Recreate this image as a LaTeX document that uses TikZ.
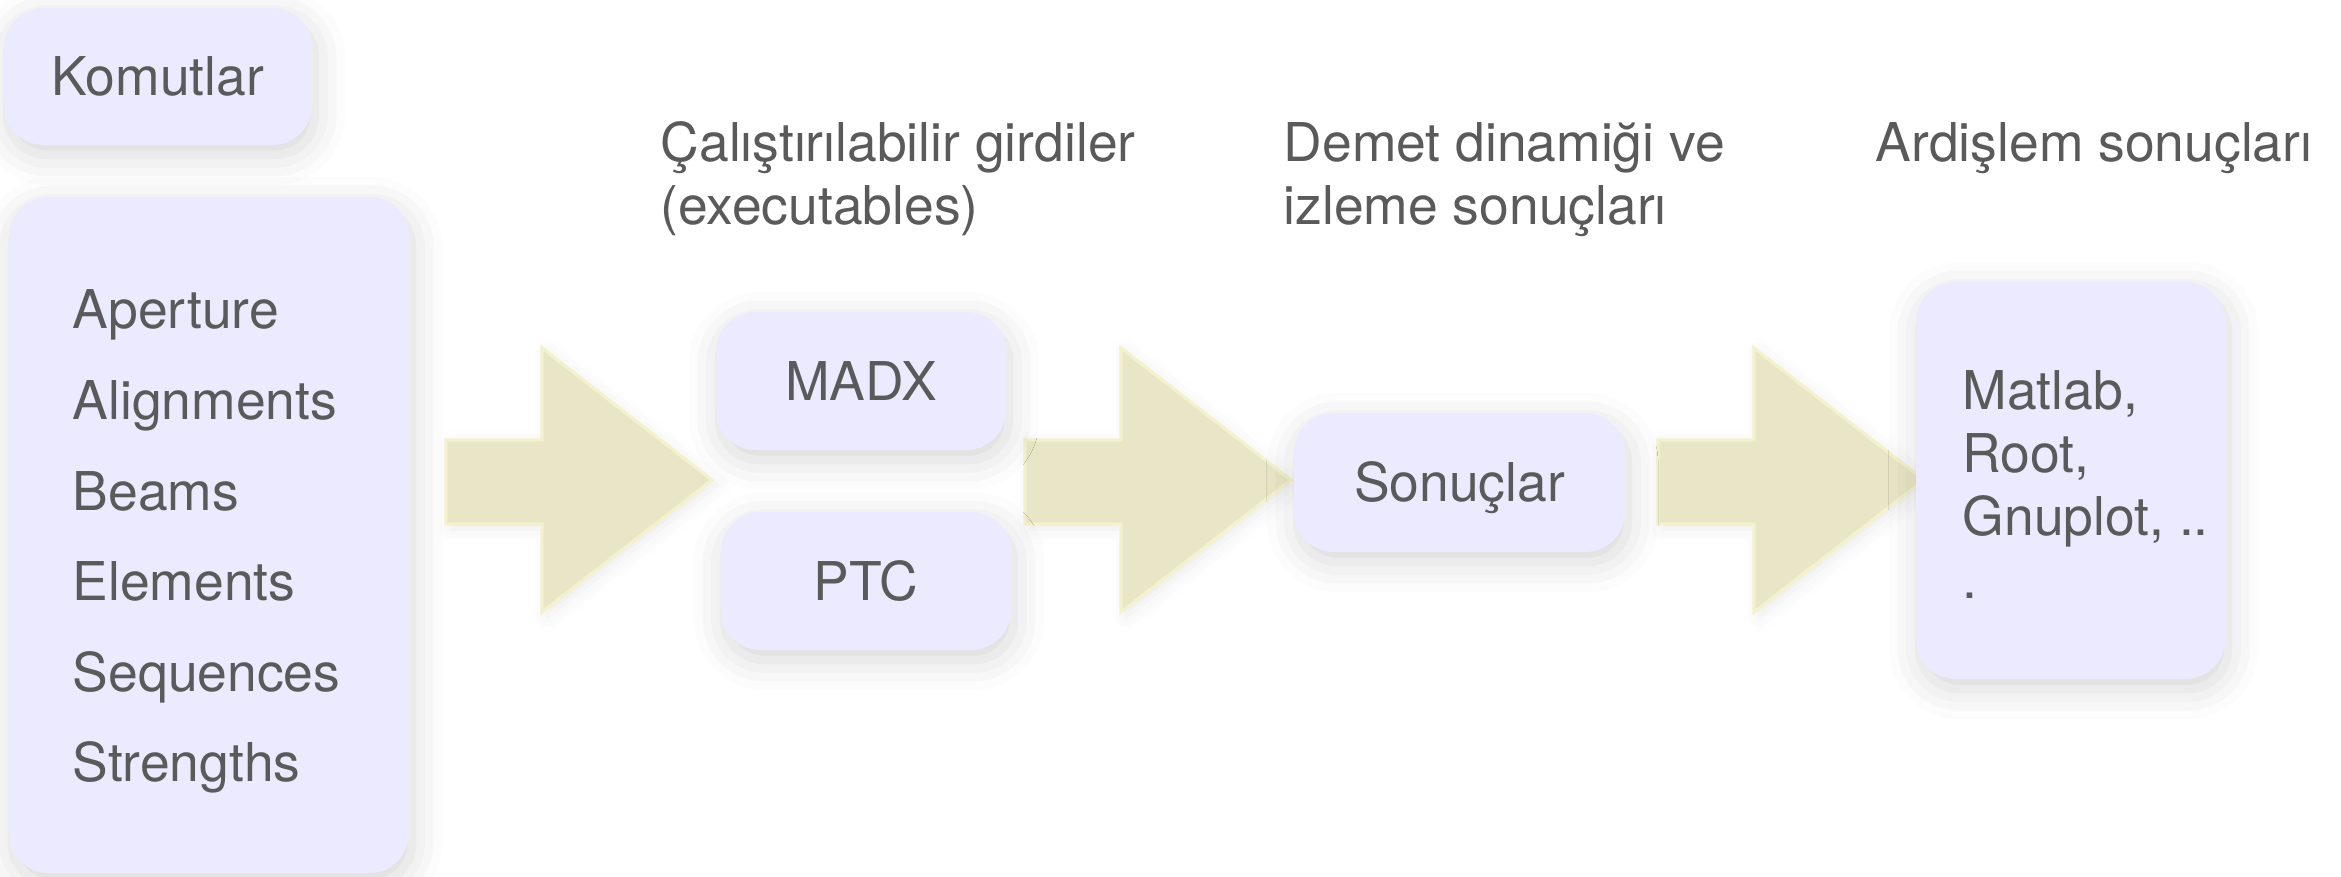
\documentclass[tikz,border=0pt]{standalone}
\usepackage{fontspec}
\setmainfont{TeX Gyre Heros}
\usepackage{tikz}
\usetikzlibrary{shadows.blur}

\definecolor{boxfill}{RGB}{236,234,254}
\definecolor{arrowfill}{RGB}{232,230,198}
\definecolor{arrowedge}{RGB}{244,242,204}
\definecolor{textgray}{RGB}{90,90,90}

\tikzset{
  box/.style={fill=boxfill, rounded corners=0.4cm, inner sep=0pt,
    text height=0.385cm, text depth=0pt,
    blur shadow={shadow xshift=0.03cm, shadow yshift=-0.1cm, shadow blur radius=0.3cm, shadow opacity=16}},
  txt/.style={text=textgray, inner sep=0pt, align=left},
  bigarrow/.style={fill=arrowfill, draw=arrowedge, line width=0.9pt, line join=miter,
    blur shadow={shadow xshift=0.05cm, shadow yshift=-0.05cm, shadow blur radius=0.15cm, shadow opacity=8}}
}

\begin{document}
\begin{tikzpicture}[x=0.01cm,y=-0.01cm, font=\fontsize{15.2pt}{18pt}\selectfont]
\useasboundingbox (0,0) rectangle (2341,877);

%arrows
\foreach \x in {446,1025,1658}
  \draw[bigarrow] (\x,440) -- (\x+96,440) -- (\x+96,348) -- (\x+266,480)
    -- (\x+96,612) -- (\x+96,524) -- (\x,524) -- cycle;

%commands
\node[box, txt, minimum width=3.08cm, minimum height=1.37cm] (komutlar) at (158,76.5) {Komutlar};
\node[box, minimum width=4.00cm, minimum height=6.76cm] (komutlist) at (209,535) {};
\foreach \name [count=\i] in {Aperture,Alignments,Beams,Elements,Sequences,Strengths}
  \node[txt, anchor=base west] (item\i) at (72,{329+(\i-1)*90.6}) {\name};

%executables (base = last line)
\node[txt, anchor=base west] (calistir) at (660,225) {Çalıştırılabilir girdiler\\(executables)};
\node[box, txt, minimum width=2.90cm, minimum height=1.38cm] (madx) at (861,381) {MADX};
\node[box, txt, minimum width=2.90cm, minimum height=1.38cm] (ptc) at (866,581) {PTC};

%results
\node[txt, anchor=base west] (demet) at (1283,225) {Demet dinamiği ve\\izleme sonuçları};
\node[box, txt, minimum width=3.31cm, minimum height=1.39cm] (sonuclar) at (1459.5,482.5) {Sonuçlar};

%post processing
\node[txt, anchor=base west] (ardislem) at (1875,162) {Ardişlem sonuçları};
\node[box, minimum width=3.09cm, minimum height=3.97cm] (araclar) at (2070.5,480.5) {};
\node[txt, anchor=base west] (araclist) at (1962,599) {Matlab,\\Root,\\Gnuplot, ..\\.};
\end{tikzpicture}
\end{document}
